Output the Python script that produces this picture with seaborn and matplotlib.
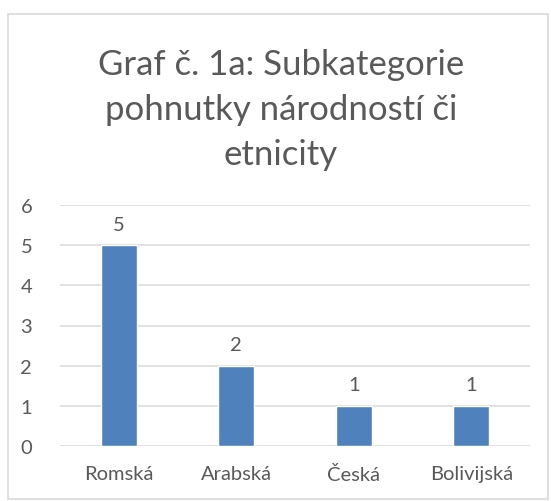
import matplotlib
matplotlib.use('Agg')
import matplotlib.pyplot as plt
import seaborn as sns
import pandas as pd
from matplotlib.patches import Rectangle

# Data
categories = ['Romská', 'Arabská', 'Česká', 'Bolivijská']
counts = [5, 2, 1, 1]
title = 'Graf č. 1a: Subkategorie\npohnutky národností či\netnicity'

df = pd.DataFrame({'Kategorie': categories, 'Počet': counts})

sns.set_style('white')
plt.rcParams['font.family'] = ['Lato', 'DejaVu Sans']

grey = '#595959'
bar_color = '#4F81BD'

fig = plt.figure(figsize=(5.51, 5.02), dpi=100)
# chart border like the Excel chart area
fig.patches.append(Rectangle((8 / 551, 0.004), 540 / 551, 1 - 15 / 502 - 0.004,
                             transform=fig.transFigure, fill=False,
                             edgecolor='#D9D9D9', linewidth=1.2))

ax = fig.add_axes([60 / 551, 1 - 447 / 502, 470 / 551, 241 / 502])
sns.barplot(data=df, x='Kategorie', y='Počet', color=bar_color, width=0.31,
            saturation=1, ax=ax, zorder=3)

ax.set_ylim(0, 6)
ax.set_xlim(-0.5, len(categories) - 0.5)
ax.set_yticks(range(0, 7))
ax.yaxis.grid(True, color='#D9D9D9', linewidth=1.1, zorder=0)
ax.set_axisbelow(True)
for s in ax.spines.values():
    s.set_visible(False)
ax.set_xlabel('')
ax.set_ylabel('')
ax.tick_params(axis='both', length=0, colors=grey, labelsize=14.5)
ax.tick_params(axis='x', pad=14)
ax.tick_params(axis='y', pad=20)

for i, v in enumerate(counts):
    ax.annotate(str(v), (i, v), xytext=(0, 9), textcoords='offset points',
                ha='center', va='bottom', color=grey, fontsize=14.5)

fig.text(281 / 551, 1 - 110 / 502, title, ha='center', va='center',
         fontsize=25, color=grey, linespacing=1.5)

fig.savefig('out.png', dpi=100)
